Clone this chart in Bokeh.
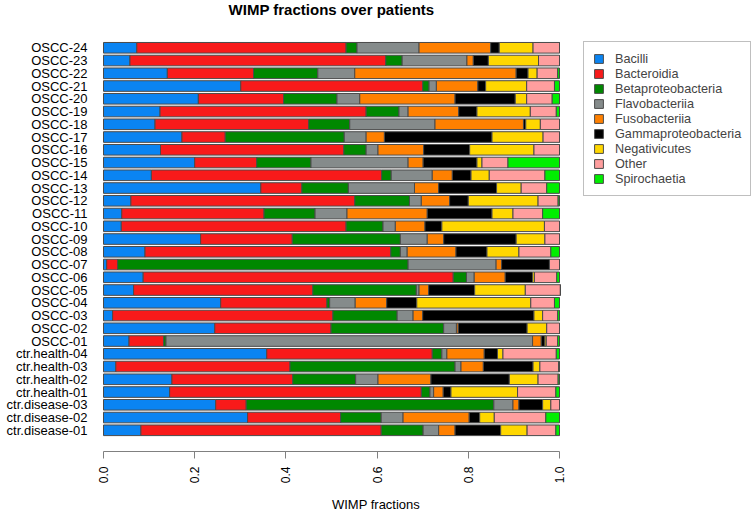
import math
from bokeh.plotting import figure
from bokeh.models import (Range1d, FixedTicker, NumeralTickFormatter, Label,
                          Legend, LegendItem, ColumnDataSource)
from bokeh.core.properties import value
from bokeh.embed import file_html
from bokeh.resources import INLINE

# ---- data (rows listed top to bottom as in the chart) ----
patients = ["OSCC-24", "OSCC-23", "OSCC-22", "OSCC-21", "OSCC-20", "OSCC-19",
            "OSCC-18", "OSCC-17", "OSCC-16", "OSCC-15", "OSCC-14", "OSCC-13",
            "OSCC-12", "OSCC-11", "OSCC-10", "OSCC-09", "OSCC-08", "OSCC-07",
            "OSCC-06", "OSCC-05", "OSCC-04", "OSCC-03", "OSCC-02", "OSCC-01",
            "ctr.health-04", "ctr.health-03", "ctr.health-02", "ctr.health-01",
            "ctr.disease-03", "ctr.disease-02", "ctr.disease-01"]

classes = ["Bacilli", "Bacteroidia", "Betaproteobacteria", "Flavobacteriia",
           "Fusobacteriia", "Gammaproteobacteria", "Negativicutes", "Other",
           "Spirochaetia"]

bacilli = [0.073, 0.058, 0.140, 0.301, 0.208, 0.124, 0.113, 0.172, 0.125, 0.200, 0.105,
           0.345, 0.060, 0.040, 0.039, 0.213, 0.091, 0.007, 0.087, 0.066, 0.257, 0.020,
           0.244, 0.056, 0.358, 0.027, 0.150, 0.145, 0.246, 0.316, 0.082]
bacteroidia = [0.459, 0.561, 0.189, 0.399, 0.187, 0.452, 0.337, 0.095, 0.402, 0.136, 0.505,
               0.090, 0.491, 0.312, 0.493, 0.201, 0.539, 0.024, 0.680, 0.393, 0.233, 0.483,
               0.255, 0.076, 0.363, 0.382, 0.265, 0.552, 0.067, 0.204, 0.527]
betaproteobacteria = [0.024, 0.036, 0.141, 0.014, 0.117, 0.072, 0.090, 0.261, 0.049, 0.119, 0.021,
                      0.102, 0.120, 0.112, 0.081, 0.237, 0.021, 0.637, 0.029, 0.227, 0.006, 0.141,
                      0.247, 0.005, 0.021, 0.362, 0.138, 0.019, 0.543, 0.089, 0.092]
flavobacteriia = [0.136, 0.142, 0.081, 0.016, 0.050, 0.020, 0.187, 0.048, 0.026, 0.213, 0.090,
                  0.145, 0.026, 0.070, 0.027, 0.059, 0.015, 0.193, 0.017, 0.006, 0.056, 0.035,
                  0.028, 0.804, 0.011, 0.013, 0.049, 0.008, 0.042, 0.048, 0.034]
fusobacteriia = [0.157, 0.014, 0.354, 0.091, 0.209, 0.111, 0.194, 0.040, 0.100, 0.033, 0.044,
                 0.053, 0.062, 0.176, 0.065, 0.036, 0.107, 0.012, 0.068, 0.021, 0.069, 0.021,
                 0.004, 0.019, 0.082, 0.049, 0.116, 0.021, 0.013, 0.145, 0.036]
gammaproteobacteria = [0.019, 0.033, 0.026, 0.017, 0.132, 0.040, 0.005, 0.236, 0.101, 0.118, 0.041,
                       0.127, 0.041, 0.142, 0.037, 0.159, 0.068, 0.105, 0.060, 0.101, 0.066, 0.244,
                       0.151, 0.008, 0.029, 0.109, 0.172, 0.017, 0.052, 0.023, 0.100]
negativicutes = [0.074, 0.110, 0.020, 0.090, 0.025, 0.117, 0.032, 0.112, 0.141, 0.011, 0.040,
                 0.054, 0.153, 0.046, 0.225, 0.063, 0.070, 0.000, 0.004, 0.111, 0.250, 0.019,
                 0.043, 0.003, 0.012, 0.015, 0.063, 0.146, 0.018, 0.032, 0.058]
other = [0.058, 0.046, 0.045, 0.061, 0.056, 0.057, 0.042, 0.036, 0.056, 0.057, 0.122,
         0.056, 0.044, 0.065, 0.033, 0.032, 0.070, 0.022, 0.049, 0.077, 0.052, 0.033,
         0.028, 0.025, 0.117, 0.041, 0.044, 0.084, 0.019, 0.113, 0.063]
spirochaetia = [0.000, 0.000, 0.004, 0.011, 0.016, 0.007, 0.000, 0.000, 0.000, 0.113, 0.032,
                0.028, 0.003, 0.037, 0.000, 0.000, 0.019, 0.000, 0.006, 0.000, 0.011, 0.004,
                0.000, 0.004, 0.007, 0.002, 0.003, 0.008, 0.000, 0.030, 0.008]

colors = ["#0A84F2", "#F81A1A", "#008800", "#858B8B", "#FF8000", "#000000",
          "#FFD700", "#FF9E9E", "#00EE00"]

xticks = [0.0, 0.2, 0.4, 0.6, 0.8, 1.0]

# ---- build ----
n = len(patients)
ypos = [n - 1 - i for i in range(n)]
src = ColumnDataSource(dict(
    y=ypos, name=patients,
    Bacilli=bacilli, Bacteroidia=bacteroidia, Betaproteobacteria=betaproteobacteria,
    Flavobacteriia=flavobacteriia, Fusobacteriia=fusobacteriia,
    Gammaproteobacteria=gammaproteobacteria, Negativicutes=negativicutes,
    Other=other, Spirochaetia=spirochaetia))

FONT = "Liberation Sans"
W, H = 751, 515
LEFT = 103       # pixel position of x=0
SCALE = 456      # pixels per unit of x
FRAME_H = 453

p = figure(width=W, height=H, output_backend="svg", toolbar_location=None,
           x_range=Range1d(-LEFT / SCALE, (W - LEFT) / SCALE),
           y_range=Range1d(-1.663, 33.709),
           y_axis_location=None,
           min_border_left=0, min_border_right=0, min_border_top=0,
           min_border_bottom=H - FRAME_H)
p.grid.visible = False
p.outline_line_color = None
p.background_fill_color = "white"
p.border_fill_color = "white"

rs = p.hbar_stack(classes, y="y", height=1 / 1.2, color=colors, source=src,
                  line_color="#4a4a4a", line_width=1)

# category labels
p.text(x=0, y="y", text="name", source=src, x_offset=-16,
       text_align="right", text_baseline="middle",
       text_font=value(FONT), text_font_size="13px", text_color="black")

# x axis
ax = p.xaxis[0]
ax.bounds = (0, 1)
ax.ticker = FixedTicker(ticks=xticks)
ax.formatter = NumeralTickFormatter(format="0.0")
ax.major_label_orientation = math.pi / 2
ax.major_tick_out = 7
ax.major_tick_in = 0
ax.minor_tick_line_color = None
ax.axis_line_color = "#808080"
ax.major_tick_line_color = "#808080"
ax.major_label_text_font = FONT
ax.major_label_text_font_size = "12px"
ax.major_label_text_color = "black"
ax.major_label_standoff = 8
ax.axis_label = "WIMP fractions"
ax.axis_label_text_font = FONT
ax.axis_label_text_font_size = "13px"
ax.axis_label_text_font_style = "normal"
ax.axis_label_text_color = "black"
ax.axis_label_standoff = 11

# title
p.add_layout(Label(x=228 + LEFT, y=FRAME_H - 11, x_units="screen", y_units="screen",
                   text="WIMP fractions over patients", text_align="center",
                   text_baseline="middle", text_font=FONT, text_font_size="15px",
                   text_font_style="bold", text_color="black"))

# legend
legend = Legend(items=[LegendItem(label=c, renderers=[r]) for c, r in zip(classes, rs)],
                location=(583, 255), orientation="vertical",
                label_text_font=FONT, label_text_font_size="12.7px",
                glyph_width=11, glyph_height=11, label_height=15, spacing=0,
                padding=9, label_standoff=11, margin=0,
                border_line_color="#808080", border_line_width=1,
                background_fill_color="white", background_fill_alpha=1.0)
p.add_layout(legend)

open("out.html", "w").write(file_html(p, INLINE))
